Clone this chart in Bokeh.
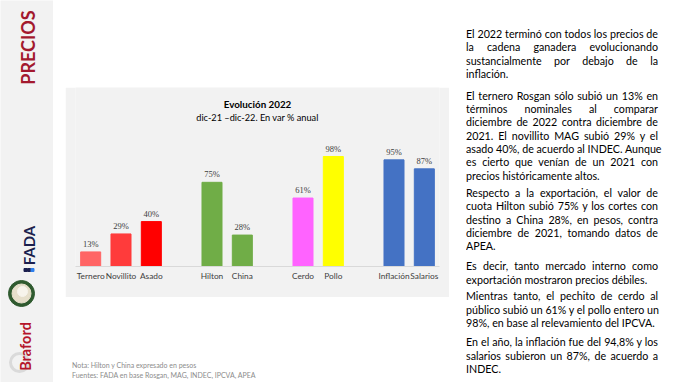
import numpy as np
from bokeh.plotting import figure
from bokeh.models import (ColumnDataSource, LabelSet, Label, Div, FactorRange,
                          Range1d, Spacer)
from bokeh.layouts import row, column
from bokeh.embed import file_html
from bokeh.resources import INLINE

# ---------------- data ----------------
groups = [["Ternero", "Novillito", "Asado"],
          ["Hilton", "China"],
          ["Cerdo", "Pollo"],
          ["Inflación", "Salarios"]]
categories = ["Ternero", "Novillito", "Asado", "Hilton", "China",
              "Cerdo", "Pollo", "Inflación", "Salarios"]
values = [13, 29, 40, 75, 28, 61, 98, 95, 87]

title_text = "Evolución 2022"
subtitle_text = "dic-21 –dic-22. En var % anual"
note_lines = ["Nota: Hilton y China expresado en pesos",
              "Fuentes: FADA en base Rosgan, MAG, INDEC, IPCVA, APEA"]

paragraphs = [
    ["El 2022 terminó con todos los precios de",
     "la cadena ganadera evolucionando",
     "sustancialmente por debajo de la",
     "inflación."],
    ["El ternero Rosgan sólo subió un 13% en",
     "términos nominales al comparar",
     "diciembre de 2022 contra diciembre de",
     "2021. El novillito MAG subió 29% y el",
     "asado 40%, de acuerdo al INDEC. Aunque",
     "es cierto que venían de un 2021 con",
     "precios históricamente altos."],
    ["Respecto a la exportación, el valor de",
     "cuota Hilton subió 75% y los cortes con",
     "destino a China 28%, en pesos, contra",
     "diciembre de 2021, tomando datos de",
     "APEA."],
    ["Es decir, tanto mercado interno como",
     "exportación mostraron precios débiles."],
    ["Mientras tanto, el pechito de cerdo al",
     "público subió un 61% y el pollo entero un",
     "98%, en base al relevamiento del IPCVA."],
    ["En el año, la inflación fue del 94,8% y los",
     "salarios subieron un 87%, de acuerdo a",
     "INDEC."],
]

# ---------------- styles ----------------
bar_colors = {"Ternero": "#FF6565", "Novillito": "#FF3B3B", "Asado": "#FF0000",
              "Hilton": "#70AD47", "China": "#70AD47",
              "Cerdo": "#FF63FF", "Pollo": "#FFFF00",
              "Inflación": "#4472C4", "Salarios": "#4472C4"}
FONT = "Lato"
PANEL = "#F2F2F2"
PX_PER_PCT = 1.1224          # vertical scale of the bars (pixels per %)

# ---------------- sidebar ----------------
side = figure(width=53, height=382, x_range=Range1d(0, 53), y_range=Range1d(382, 0),
              output_backend="svg", toolbar_location=None, title=None,
              x_axis_location=None, y_axis_location=None,
              min_border=0, min_border_left=0, min_border_right=0,
              min_border_top=0, min_border_bottom=0)
side.background_fill_color = PANEL
side.border_fill_color = PANEL
side.outline_line_color = None
side.xgrid.visible = False
side.ygrid.visible = False


def side_label(x, y, text, size, color, bold=True):
    side.add_layout(Label(x=x, y=y, text=text, text_font=FONT, text_font_size=size,
                          text_font_style="bold" if bold else "normal",
                          text_color=color, angle=np.pi / 2,
                          text_align="center", text_baseline="middle"))


side_label(27, 47, "PRECIOS", "18px", "#A3192E")
side_label(28.5, 245, "FADA", "15px", "#1B1F4E")
side.scatter(x=[25, 28.5, 32], y=[269.5, 269.5, 269.5], size=3, marker="square",
             color=["#1B1F4E", "#1B1F4E", "#2F80ED"])
side.scatter(x=[21], y=[293], size=26, color="#2F5A2F")
side.scatter(x=[21], y=[293], size=19, color="#E6DFCB")
side.scatter(x=[22], y=[291], size=10, color="#F7F4EC")
side.scatter(x=[19], y=[362], size=18, marker="circle", fill_alpha=0,
             line_color="#DADADA", line_width=3)
side_label(25, 346, "Braford", "14.5px", "#B5152B")

# ---------------- chart ----------------
factors = []
for gi, g in enumerate(groups):
    if gi > 0:
        factors.append(" " * gi)
    factors.extend(g)

src = ColumnDataSource(dict(
    cat=categories,
    val=values,
    lbl=[f"{v}%" for v in values],
    color=[bar_colors[c] for c in categories],
))

CH_W, CH_H = 384, 210
BL, BR, BT, BB = 10, 10, 0, 31
frame_h = CH_H - BT - BB
ymax = frame_h / PX_PER_PCT

p = figure(width=CH_W, height=CH_H,
           x_range=FactorRange(factors=factors),
           y_range=Range1d(0, ymax),
           output_backend="svg", toolbar_location=None, title=None,
           y_axis_location=None,
           min_border_left=BL, min_border_right=BR,
           min_border_top=BT, min_border_bottom=BB)
p.background_fill_color = PANEL
p.border_fill_color = PANEL
p.outline_line_color = None
p.xgrid.visible = False
p.ygrid.visible = False

p.xaxis.axis_line_color = "#D9D9D9"
p.xaxis.major_tick_line_color = None
p.xaxis.minor_tick_line_color = None
p.xaxis.major_tick_out = 0
p.xaxis.major_tick_in = 0
p.xaxis.major_label_standoff = 4
p.xaxis.major_label_text_font = FONT
p.xaxis.major_label_text_font_size = "8.3px"
p.xaxis.major_label_text_color = "#404040"

p.vbar(x="cat", top="val", width=0.66, color="color", source=src)
p.add_layout(LabelSet(x="cat", y="val", text="lbl", source=src,
                      y_offset=3, text_align="center", text_baseline="bottom",
                      text_font=FONT, text_font_size="8.5px",
                      text_color="#404040"))

mid = len(factors) / 2
p.add_layout(Label(x=mid, y=(frame_h - 16.3) / PX_PER_PCT, text=title_text,
                   text_font=FONT, text_font_size="9.8px", text_font_style="bold",
                   text_color="#000000", text_align="center", text_baseline="middle"))
p.add_layout(Label(x=mid, y=(frame_h - 29.7) / PX_PER_PCT, text=subtitle_text,
                   text_font=FONT, text_font_size="9.2px",
                   text_color="#000000", text_align="center", text_baseline="middle"))

# ---------------- footnotes ----------------
notes_html = (
    '<div style="position:relative;width:413px;height:85px;overflow:hidden;'
    f'font-family:{FONT};font-size:7px;color:#8C8C8C;">'
    f'<div style="position:absolute;left:19px;top:63px;line-height:10px;white-space:nowrap;">{note_lines[0]}</div>'
    f'<div style="position:absolute;left:19px;top:73px;line-height:10px;white-space:nowrap;">{note_lines[1]}</div>'
    '</div>')
notes = Div(text=notes_html, width=413, height=85, margin=0)

# ---------------- right text ----------------
para_starts = [35.0, 96.7, 194.0, 267.3, 297.3, 343.3]  # y of first line centre
LH = 13.33
parts = []
for para, y0 in zip(paragraphs, para_starts):
    for i, line in enumerate(para):
        top = y0 + i * LH - LH / 2 - 1.2
        just = "left" if i == len(para) - 1 else "justify"
        parts.append(
            f'<div style="position:absolute;left:0px;top:{top:.2f}px;width:192px;'
            f'height:{LH}px;line-height:{LH}px;white-space:nowrap;'
            f'text-align:{just};text-align-last:{just};">{line}</div>')
text_html = ('<div style="position:relative;width:214px;height:382px;overflow:hidden;'
             f'font-family:{FONT};font-size:10.7px;color:#000;">' + "".join(parts) + "</div>")
text_div = Div(text=text_html, width=214, height=382, margin=0)

middle = column(
    Spacer(width=413, height=87),
    row(Spacer(width=12, height=CH_H), p, Spacer(width=17, height=CH_H), spacing=0),
    notes,
    spacing=0,
)
layout = row(side, middle, text_div, spacing=0)
open("out.html", "w").write(file_html(layout, INLINE))
